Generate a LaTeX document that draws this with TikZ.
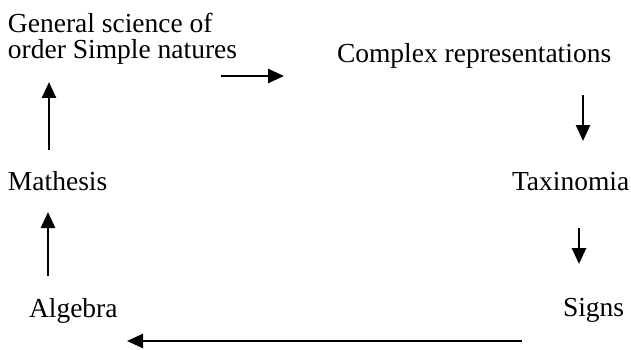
\documentclass[tikz,border=0pt]{standalone}
\usepackage{fontspec}
\setmainfont{Liberation Serif}
\usetikzlibrary{arrows.meta}
\tikzset{
  lbl/.style={anchor=base west, inner sep=0pt, outer sep=0pt, font=\fontsize{27.5pt}{25.5pt}\selectfont},
  arr/.style={line width=2.6pt, -{Triangle[length=16pt,width=14pt]}}
}
\begin{document}
\begin{tikzpicture}[x=1pt,y=-1pt]
\useasboundingbox (0,0) rectangle (631,350);
\node[lbl] (gen) at (8,33) {General science of};
\node[lbl] (gen2) at (8,59) {order Simple natures};
\node[lbl] (cpx) at (337,63) {Complex representations};
\node[lbl] (tax) at (512,190) {Taxinomia};
\node[lbl] (sig) at (563,316) {Signs};
\node[lbl] (alg) at (29,317) {Algebra};
\node[lbl] (mat) at (8,190) {Mathesis};
\coordinate (a1s) at (221,76); \coordinate (a1e) at (284,76);
\coordinate (a2s) at (583,95); \coordinate (a2e) at (583,141);
\coordinate (a3s) at (579,228); \coordinate (a3e) at (579,264);
\coordinate (a4s) at (522,341); \coordinate (a4e) at (127,341);
\coordinate (a5s) at (48,276); \coordinate (a5e) at (48,212);
\coordinate (a6s) at (49,150); \coordinate (a6e) at (49,82);
\draw[arr] (a1s) -- (a1e);
\draw[arr] (a2s) -- (a2e);
\draw[arr] (a3s) -- (a3e);
\draw[arr] (a4s) -- (a4e);
\draw[arr] (a5s) -- (a5e);
\draw[arr] (a6s) -- (a6e);
\end{tikzpicture}
\end{document}
